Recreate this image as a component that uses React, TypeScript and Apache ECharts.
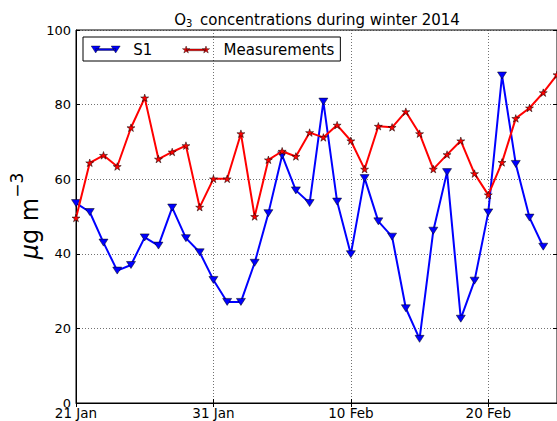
import React, { useEffect, useRef } from "react";
import * as echarts from "echarts";

const dates: string[] = [
  "21 Jan", "22 Jan", "23 Jan", "24 Jan", "25 Jan", "26 Jan", "27 Jan", "28 Jan", "29 Jan", "30 Jan",
  "31 Jan", "1 Feb", "2 Feb", "3 Feb", "4 Feb", "5 Feb", "6 Feb", "7 Feb", "8 Feb", "9 Feb",
  "10 Feb", "11 Feb", "12 Feb", "13 Feb", "14 Feb", "15 Feb", "16 Feb", "17 Feb", "18 Feb", "19 Feb",
  "20 Feb", "21 Feb", "22 Feb", "23 Feb", "24 Feb", "25 Feb",
];

const s1Values: number[] = [
  53.6, 51.2, 43.0, 35.5, 37.0, 44.4, 42.2, 52.4, 44.2, 40.4,
  33.0, 27.1, 27.1, 37.6, 50.9, 66.4, 57.0, 53.6, 80.8, 54.0,
  39.9, 60.3, 48.7, 44.6, 25.4, 17.2, 46.2, 61.9, 22.6, 32.8,
  51.1, 87.8, 64.1, 49.7, 41.9,
];

const measuredValues: number[] = [
  49.6, 64.4, 66.4, 63.4, 73.8, 81.8, 65.4, 67.3, 69.0, 52.5,
  60.1, 60.1, 72.2, 50.0, 65.2, 67.5, 66.1, 72.5, 71.2, 74.5,
  70.3, 62.7, 74.2, 73.9, 78.1, 72.2, 62.7, 66.6, 70.3, 61.5,
  55.8, 64.5, 76.3, 79.1, 83.2, 88.0,
];

const yTicks = { min: 0, max: 100, interval: 20 };

const FONT = "DejaVu Sans";
const BLUE = "#0000ff";
const RED = "#ff0000";

const STAR =
  "M4 0L4.899 2.762L7.804 2.764L5.455 4.473L6.351 7.236L4 5.53L1.649 7.236L2.545 4.473L0.196 2.764L3.101 2.762Z";
const STAR_ICON =
  "M4 0L4.899 2.762L7.804 2.764L5.455 4.473L6.351 7.236L4 5.53L1.649 7.236L2.545 4.473L0.196 2.764L3.101 2.762Z " +
  "M24.5 0L25.399 2.762L28.304 2.764L25.955 4.473L26.851 7.236L24.5 5.53L22.149 7.236L23.045 4.473L20.696 2.764L23.601 2.762Z " +
  "M4 3.1L24.5 3.1L24.5 4.9L4 4.9Z";
const TRI_ICON =
  "M0 0L9 0L4.5 7Z M20 0L29 0L24.5 7Z M4.5 2.6L24.5 2.6L24.5 4.4L4.5 4.4Z";

export default function App() {
  const ref = useRef<HTMLDivElement>(null);

  useEffect(() => {
    document.body.style.margin = "0";
    if (!ref.current) return;
    const chart = echarts.init(ref.current, undefined, { renderer: "svg" });
    const grid = { left: 76, right: -1, top: 30, bottom: 18 };
    chart.setOption({
      animation: false,
      backgroundColor: "#ffffff",
      textStyle: { fontFamily: FONT },
      grid: { ...grid, show: true, borderColor: "#000", borderWidth: 1 },
      legend: {
        left: 83,
        top: 37,
        orient: "horizontal",
        padding: [5, 6, 4, 8],
        borderColor: "#000",
        borderWidth: 1,
        borderRadius: 0,
        itemGap: 30,
        textStyle: { fontFamily: FONT, fontSize: 15, color: "#000", padding: [0, 0, 0, 8] },
        data: [
          {
            name: "S1",
            icon: "path://" + TRI_ICON,
            itemWidth: 29,
            itemHeight: 7,
            itemStyle: { color: BLUE, borderColor: "#000", borderWidth: 0.4 },
          },
          {
            name: "Measurements",
            icon: "path://" + STAR_ICON,
            itemWidth: 28,
            itemHeight: 7.2,
            itemStyle: { color: RED, borderColor: "#000", borderWidth: 0.4 },
          },
        ],
        itemWidth: 29,
        itemHeight: 7,
      },
      xAxis: [
        {
          type: "category",
          data: dates,
          boundaryGap: false,
          position: "bottom",
          axisLine: { show: true, lineStyle: { color: "#000", width: 1 } },
          axisTick: { show: true, inside: true, length: 4, interval: 9, lineStyle: { color: "#000" } },
          axisLabel: { interval: 9, margin: 3, fontSize: 13.5, color: "#000", fontFamily: FONT },
          splitLine: { show: true, interval: 9, lineStyle: { color: "#333", width: 0.7, type: [1, 2] } },
        },
        {
          type: "category",
          data: dates,
          boundaryGap: false,
          position: "top",
          axisLine: { show: false },
          axisTick: { show: true, inside: true, length: 4, interval: 9, lineStyle: { color: "#000" } },
          axisLabel: { show: false },
          splitLine: { show: false },
        },
      ],
      yAxis: [
        {
          type: "value",
          ...yTicks,
          position: "left",
          axisLine: { show: true, lineStyle: { color: "#000", width: 1 } },
          axisTick: { show: true, inside: true, length: 4, lineStyle: { color: "#000" } },
          axisLabel: { margin: 5, fontSize: 13, color: "#000", fontFamily: FONT },
          splitLine: { show: true, lineStyle: { color: "#333", width: 0.7, type: [1, 2] } },
        },
        {
          type: "value",
          ...yTicks,
          position: "right",
          axisLine: { show: false },
          axisTick: { show: true, inside: true, length: 4, lineStyle: { color: "#000" } },
          axisLabel: { show: false },
          splitLine: { show: false },
        },
      ],
      series: [
        {
          name: "S1",
          type: "line",
          data: s1Values,
          xAxisIndex: 0,
          yAxisIndex: 0,
          symbol: "triangle",
          symbolRotate: 180,
          symbolSize: [9, 7],
          showAllSymbol: true,
          lineStyle: { color: BLUE, width: 2 },
          itemStyle: { color: BLUE, borderColor: "#000", borderWidth: 0.5 },
          z: 2,
        },
        {
          name: "Measurements",
          type: "line",
          data: measuredValues,
          xAxisIndex: 0,
          yAxisIndex: 0,
          symbol: "path://" + STAR,
          symbolSize: 8,
          symbolKeepAspect: true,
          showAllSymbol: true,
          lineStyle: { color: RED, width: 2 },
          itemStyle: { color: RED, borderColor: "#000", borderWidth: 0.5 },
          z: 3,
        },
      ],
      graphic: [
        {
          type: "text",
          x: 317,
          y: 20,
          style: {
            text: "{o|O}{sub|3}{t| concentrations during winter 2014}",
            align: "center",
            verticalAlign: "middle",
            fill: "#000",
            rich: {
              o: { fontFamily: FONT, fontSize: 15, lineHeight: 16, fill: "#000" },
              sub: { fontFamily: FONT, fontSize: 10, lineHeight: 8, verticalAlign: "bottom", fill: "#000" },
              t: { fontFamily: FONT, fontSize: 15, lineHeight: 16, fill: "#000", padding: [0, 0, 0, 3] },
            },
          },
        },
        {
          type: "text",
          x: 30,
          y: 216,
          rotation: Math.PI / 2,
          style: {
            text: "{mu|μ}{n|g m}{sup|−3}",
            align: "center",
            verticalAlign: "middle",
            fill: "#000",
            rich: {
              mu: { fontFamily: FONT, fontSize: 24, fontStyle: "italic", lineHeight: 44, fill: "#000" },
              n: { fontFamily: FONT, fontSize: 24, lineHeight: 44, fill: "#000" },
              sup: { fontFamily: FONT, fontSize: 17, lineHeight: 20, verticalAlign: "top", fill: "#000" },
            },
          },
        },
      ],
    });
    return () => chart.dispose();
  }, []);

  return <div ref={ref} style={{ width: 557, height: 421 }} />;
}
